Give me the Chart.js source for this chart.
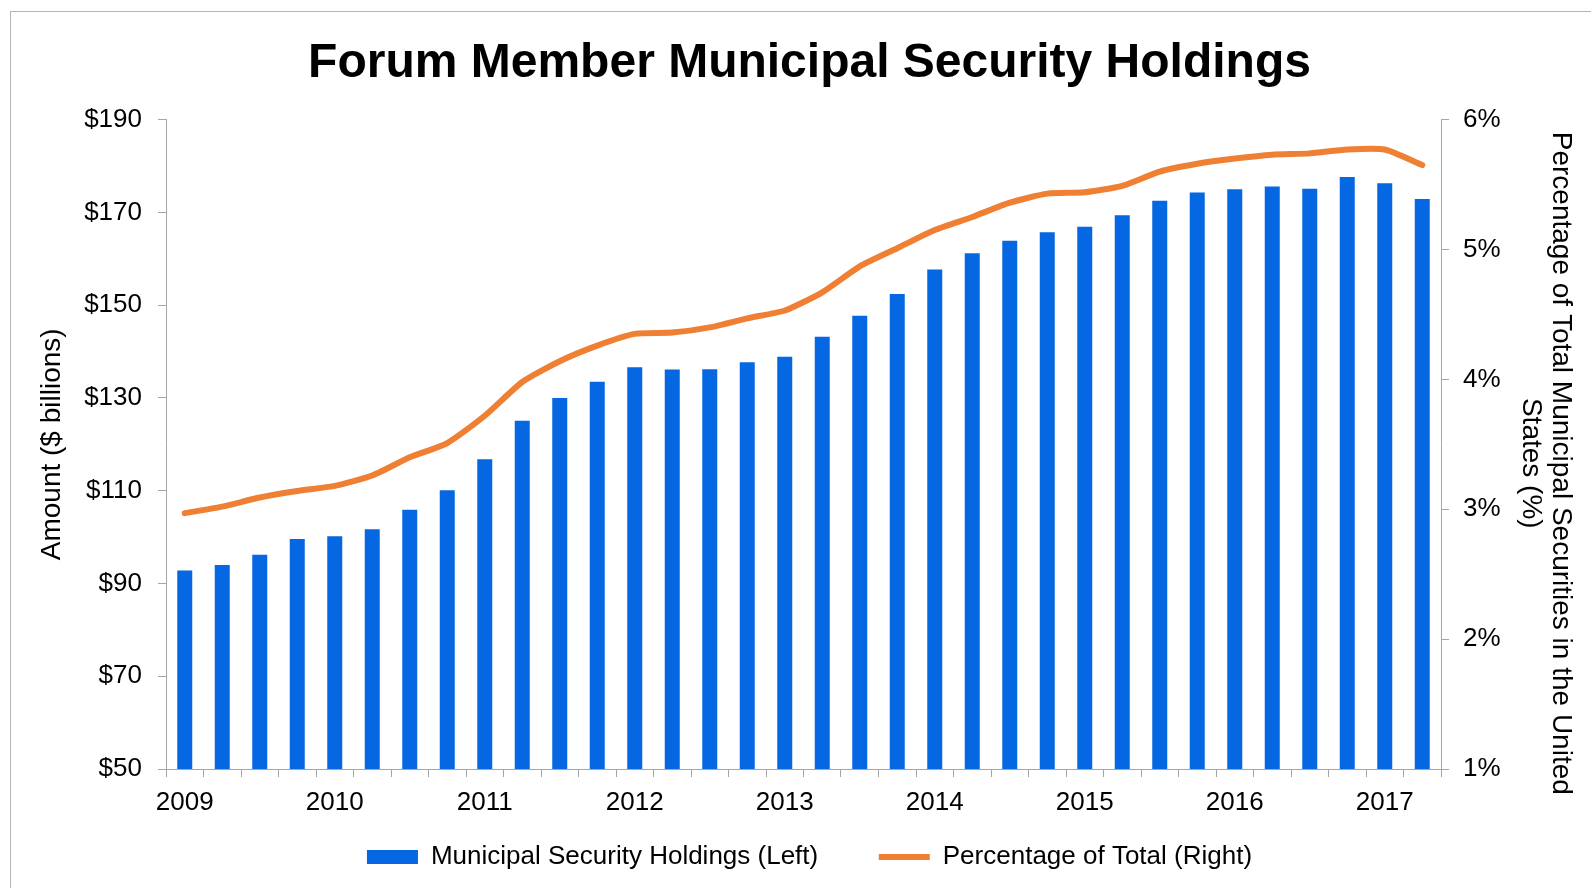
<!DOCTYPE html>
<html>
<head>
<meta charset="utf-8">
<script src="https://cdn.jsdelivr.net/npm/chart.js@4.4.1/dist/chart.umd.min.js"></script>
<style>
  html, body { margin: 0; padding: 0; background: #fff; }
  #wrap { position: relative; width: 1591px; height: 888px; overflow: hidden; }
  #frame { position: absolute; left: 10px; top: 11px; width: 1600px; height: 900px;
           border-left: 1px solid #b4b4b4; border-top: 1px solid #b4b4b4; }
  #chart { position: absolute; left: 0; top: 0; }
</style>
</head>
<body>
<div id="wrap">
  <div id="frame"></div>
  <canvas id="chart" width="1591" height="888"></canvas>
</div>
<script>
// quarterly, 2009 Q1 .. 2017 Q2
const YEARS = ["2009", "2010", "2011", "2012", "2013", "2014", "2015", "2016", "2017"];
const QUARTERS = YEARS.flatMap((y) => ["Q1", "Q2", "Q3", "Q4"].map((q) => `${y} ${q}`)).slice(0, 34);

// $ billions (left axis)
const HOLDINGS = [
  92.8, 94.0, 96.2, 99.6, 100.2, 101.7, 105.9, 110.1,
  116.8, 125.1, 130.0, 133.5, 136.6, 136.1, 136.2, 137.7,
  138.9, 143.2, 147.7, 152.4, 157.7, 161.2, 163.9, 165.7,
  166.9, 169.4, 172.5, 174.3, 175.0, 175.6, 175.1, 177.6,
  176.3, 172.9,
];

// % of total US municipal securities (right axis)
const PCT_OF_TOTAL = [
  2.97, 3.02, 3.09, 3.14, 3.18, 3.26, 3.40, 3.51,
  3.72, 3.98, 4.14, 4.26, 4.35, 4.36, 4.40, 4.47,
  4.53, 4.67, 4.87, 5.01, 5.15, 5.25, 5.36, 5.43,
  5.44, 5.49, 5.60, 5.66, 5.70, 5.73, 5.74, 5.77,
  5.77, 5.65,
];

const LEFT_TICKS = { min: 50, max: 190, step: 20 };
const RIGHT_TICKS = { min: 1, max: 6, step: 1 };
const RIGHT_TITLE = ["Percentage of Total Municipal Securities in the United", "States (%)"];

const BLUE = "#0567e2";
const ORANGE = "#ee7f33";
const AXIS_GREY = "#a6a6a6";
const FONT = "'Liberation Sans', Arial, sans-serif";

const tickFont = { family: FONT, size: 26 };
const axisGrid = { drawOnChartArea: false, tickLength: 8, color: AXIS_GREY };
const axisBorder = { color: AXIS_GREY, width: 1 };

// The source centres its right-hand title a little below the plot centre,
// which the built-in axis title can't do, so it is drawn here instead.
const rightTitle = {
  id: "rightTitle",
  afterDraw(chart) {
    const s = chart.scales.y1;
    const { top, bottom } = chart.chartArea;
    const ctx = chart.ctx;
    ctx.save();
    ctx.translate(s.right - 30, (top + bottom) / 2 + 19);
    ctx.rotate(Math.PI / 2);
    ctx.font = `28px ${FONT}`;
    ctx.fillStyle = "#000";
    ctx.textAlign = "center";
    ctx.textBaseline = "middle";
    RIGHT_TITLE.forEach((line, i) => ctx.fillText(line, 0, i * 30));
    ctx.restore();
  },
};

new Chart(document.getElementById("chart"), {
  data: {
    labels: QUARTERS,
    datasets: [
      {
        type: "bar",
        label: "Municipal Security Holdings (Left)",
        data: HOLDINGS,
        backgroundColor: BLUE,
        borderWidth: 0,
        categoryPercentage: 1,
        barPercentage: 0.4,
        yAxisID: "y",
        pointStyle: "rect",
      },
      {
        type: "line",
        label: "Percentage of Total (Right)",
        data: PCT_OF_TOTAL,
        borderColor: ORANGE,
        backgroundColor: ORANGE,
        borderWidth: 6,
        borderCapStyle: "round",
        borderJoinStyle: "round",
        pointRadius: 0,
        tension: 0.2,
        yAxisID: "y1",
        pointStyle: "line",
      },
    ],
  },
  plugins: [rightTitle],
  options: {
    responsive: false,
    animation: false,
    layout: { padding: { left: 28, right: 0, top: 0, bottom: 8 } },
    plugins: {
      tooltip: { enabled: false },
      title: {
        display: true,
        text: "Forum Member Municipal Security Holdings",
        color: "#000",
        font: { family: FONT, size: 48, weight: "bold" },
        padding: { top: 35, bottom: 27 },
      },
      legend: {
        position: "bottom",
        labels: {
          color: "#000",
          font: { family: FONT, size: 26 },
          usePointStyle: true,
          pointStyleWidth: 51,
          boxHeight: 14,
          padding: 10,
          // widen the gap between the two entries
          generateLabels: (chart) =>
            Chart.defaults.plugins.legend.labels.generateLabels(chart).map((item, i) =>
              i === 0 ? { ...item, text: item.text + "\u00a0".repeat(7) } : item
            ),
        },
      },
    },
    scales: {
      x: {
        grid: { ...axisGrid, offset: true },
        border: axisBorder,
        ticks: {
          color: "#000",
          font: tickFont,
          padding: 10,
          autoSkip: false,
          maxRotation: 0,
          callback: (v, i) => (i % 4 === 0 ? QUARTERS[i].slice(0, 4) : ""),
        },
        afterFit: (s) => { s.height = 65; },
      },
      y: {
        position: "left",
        min: LEFT_TICKS.min,
        max: LEFT_TICKS.max,
        grid: axisGrid,
        border: axisBorder,
        ticks: { stepSize: LEFT_TICKS.step, color: "#000", font: tickFont, padding: 16, callback: (v) => "$" + v },
        title: {
          display: true,
          text: "Amount ($ billions)",
          color: "#000",
          font: { family: FONT, size: 28 },
          padding: { top: 7 },
        },
        afterFit: (s) => { s.width = 138; },
      },
      y1: {
        position: "right",
        min: RIGHT_TICKS.min,
        max: RIGHT_TICKS.max,
        grid: axisGrid,
        border: axisBorder,
        ticks: { stepSize: RIGHT_TICKS.step, color: "#000", font: tickFont, padding: 14, callback: (v) => v + "%" },
        afterFit: (s) => { s.width = 150; },
      },
    },
  },
});
</script>
</body>
</html>
